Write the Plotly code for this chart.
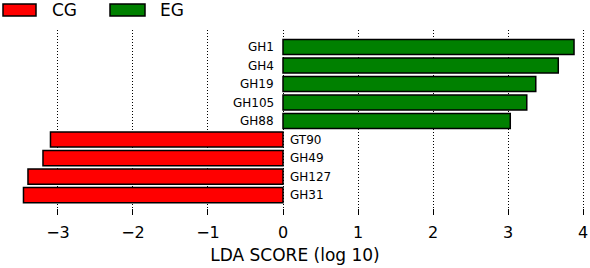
import plotly.graph_objects as go

features = ["GH1", "GH4", "GH19", "GH105", "GH88", "GT90", "GH49", "GH127", "GH31"]
scores = [3.88, 3.67, 3.37, 3.25, 3.03, -3.10, -3.20, -3.40, -3.46]
groups = ["EG", "EG", "EG", "EG", "EG", "CG", "CG", "CG", "CG"]
group_colors = {"CG": "#FF0000", "EG": "#008000"}
x_ticks = [-3, -2, -1, 0, 1, 2, 3, 4]

n = len(features)
ypos = [n - 1 - i for i in range(n)]

PLOT_TOP, PLOT_BOTTOM = 30, 208
PH = PLOT_BOTTOM - PLOT_TOP


def py(px_from_top):
    return (PLOT_BOTTOM - px_from_top) / PH


fig = go.Figure()
fig.add_trace(go.Bar(
    x=scores, y=ypos, orientation="h", width=0.82,
    marker=dict(color=[group_colors[g] for g in groups],
                line=dict(color="black", width=1.5)),
    showlegend=False, hoverinfo="skip",
))

for f, s, y in zip(features, scores, ypos):
    fig.add_annotation(
        x=0, y=y, xref="x", yref="y", text=f, showarrow=False,
        xanchor="right" if s > 0 else "left",
        xshift=-7 if s > 0 else 5,
        font=dict(size=12, color="black", family="DejaVu Sans"),
    )

# legend drawn manually
legend_items = [("CG", 3, 36, 50), ("EG", 110, 145, 158)]
for name, x0, x1, tx in legend_items:
    fig.add_shape(type="rect", xref="paper", yref="paper",
                  x0=x0 / 590, x1=x1 / 590, y0=py(16), y1=py(4),
                  fillcolor=group_colors[name], line=dict(color="black", width=1.5))
    fig.add_annotation(xref="paper", yref="paper", x=tx / 590,
                       y=py(10), text=name, showarrow=False,
                       xanchor="left", yanchor="middle",
                       font=dict(size=17, color="black", family="DejaVu Sans"))

fig.update_layout(
    width=590, height=268,
    margin=dict(l=0, r=0, t=PLOT_TOP, b=268 - PLOT_BOTTOM),
    paper_bgcolor="white", plot_bgcolor="white",
    bargap=0.1,
    xaxis=dict(range=[-3.773, 4.093], tickvals=x_ticks,
               ticktext=[("\u2212" + str(-v)) if v < 0 else str(v) for v in x_ticks],
               showgrid=True, gridcolor="black", griddash="1px,2px", gridwidth=1,
               zeroline=False, showline=False,
               ticks="outside", ticklen=6, tickcolor="black", tickwidth=1,
               ticklabelstandoff=4,
               tickfont=dict(size=16, color="black", family="DejaVu Sans"),
               title=dict(text="LDA SCORE (log 10)", standoff=7,
                          font=dict(size=17, color="black", family="DejaVu Sans"))),
    yaxis=dict(range=[-0.7, 8.92], showticklabels=False, showgrid=False,
               zeroline=False, showline=False, ticks=""),
)

fig.write_html("out.html")
